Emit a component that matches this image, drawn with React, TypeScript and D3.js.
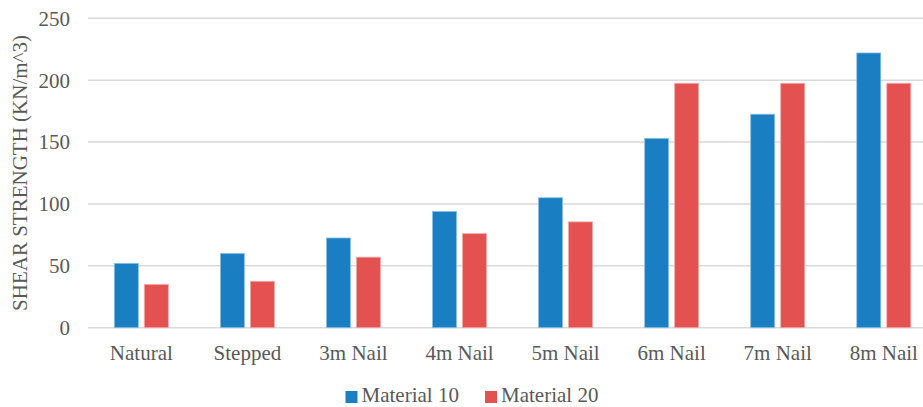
import React from "react";
import * as d3 from "d3";

const categories = ["Natural", "Stepped", "3m Nail", "4m Nail", "5m Nail", "6m Nail", "7m Nail", "8m Nail"];
const seriesNames = ["Material 10", "Material 20"];
const material10 = [52, 60, 72.5, 94, 105, 153, 172.5, 222];
const material20 = [35, 37.5, 57, 76, 85.5, 197.5, 197.5, 197.5];
const yTicks = [0, 50, 100, 150, 200, 250];
const colors = ["#1a7fc2", "#e35250"];
const strokes = ["#8cc0e3", "#f2a9a8"];

const W = 923;
const H = 407;
const FONT = "'Liberation Serif', 'Times New Roman', serif";
const TEXT = "#595959";

export default function App() {
  const x0 = d3.scaleBand<string>().domain(categories).range([88.3, 936.8]).padding(0);
  const x1 = d3
    .scaleBand<string>()
    .domain(seriesNames)
    .range([0, x0.bandwidth()])
    .paddingInner(0.2)
    .paddingOuter(0.867);
  const y = d3.scaleLinear().domain([0, 250]).range([327.7, 18.3]);
  const values = [material10, material20];

  return (
    <svg
      width={W}
      height={H}
      style={{ position: "absolute", left: 0, top: 0, background: "#fff" }}
      fontFamily={FONT}
    >
      {yTicks.map((t) => (
        <g key={t}>
          <line x1={88} x2={W} y1={y(t)} y2={y(t)} stroke="#d9d9d9" strokeWidth={1.5} />
          <text x={70} y={y(t)} dy="0.35em" textAnchor="end" fontSize={21} fill={TEXT}>
            {t}
          </text>
        </g>
      ))}
      {categories.map((c, i) => (
        <g key={c} transform={`translate(${x0(c)},0)`}>
          {seriesNames.map((s, j) => (
            <rect
              key={s}
              x={x1(s)}
              y={y(values[j][i])}
              width={x1.bandwidth()}
              height={y(0) - y(values[j][i])}
              fill={colors[j]}
              stroke={strokes[j]}
              strokeWidth={0.8}
            />
          ))}
          <text
            x={x0.bandwidth() / 2}
            y={360}
            textAnchor="middle"
            fontSize={21}
            fill={TEXT}
          >
            {c}
          </text>
        </g>
      ))}
      <text
        transform="translate(27,173) rotate(-90)"
        textAnchor="middle"
        fontSize={21}
        fill={TEXT}
      >
        SHEAR STRENGTH (KN/m^3)
      </text>
      {seriesNames.map((s, j) => {
        const lx = [345.5, 485][j];
        return (
          <g key={s}>
            <rect x={lx} y={391} width={12} height={12} fill={colors[j]} />
            <text x={lx + 16} y={402} fontSize={21} fill={TEXT}>
              {s}
            </text>
          </g>
        );
      })}
    </svg>
  );
}
